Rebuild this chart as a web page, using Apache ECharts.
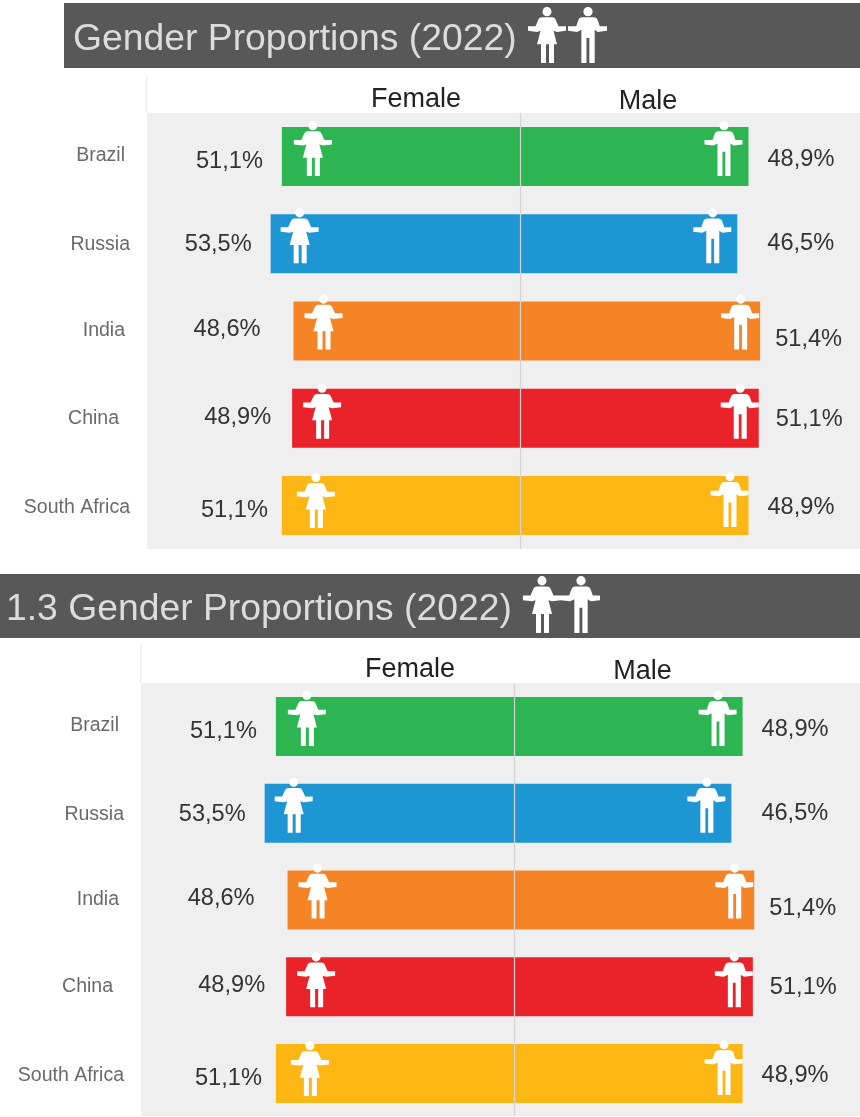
<!DOCTYPE html>
<html><head><meta charset="utf-8">
<style>html,body{margin:0;padding:0;background:#fff}#c{width:860px;height:1117px}</style>
<script src="https://cdn.jsdelivr.net/npm/echarts@6/dist/echarts.min.js"></script>
</head><body><div id="c"></div>
<script>
const categories = ['Brazil','Russia','India','China','South Africa'];
const femaleValues = [51.1,53.5,48.6,48.9,51.1];
const maleValues = [48.9,46.5,51.4,51.1,48.9];
const categoryColors = ['#2DB552','#1E96D4','#F58426','#EA2229','#FDB714'];
const titles = ['Gender Proportions (2022)','1.3 Gender Proportions (2022)'];
const sideNames = ['Female','Male'];

// hand placement of the annotations, relative to the end of each bar
const femaleLabelOffset = [[-19,5],[-19,1],[-33,-2],[-21,-1],[-14,5]];
const maleLabelOffset = [[19,3],[30,0],[15,8],[17,1],[19,2]];
const femaleIconOffset = [[31,-8],[29,-8],[30,-9],[30,-7],[34,-5]];
const maleIconOffset = [[-25,-8],[-25,-8],[-20,-9],[-19,-7],[-19,-6]];
const categoryLabelInset = [5,0,5,11,0];
const categoryLabelTop = [-11,-9,-10,-10,-8];

const FEMALE = 'M14.5 4.5a4.5 4.5 0 1 0 9 0a4.5 4.5 0 1 0 -9 0ZM14 10L24 10Q27 10 28 13L30.5 18.5L38 18.5L38 23L29 24L25.5 23L29 36L26 36L26 54L21 54L21 36L18 36L18 54L13 54L13 36L9 36L12.5 23L9 24L0 23L0 18.5L7.5 18.5L10 13Q11 10 14 10Z';
const MALE = 'M15 4.5a4.5 4.5 0 1 0 9 0a4.5 4.5 0 1 0 -9 0ZM14 10L25 10Q28 10 29 13L31 18.5L38 18.5L38 23L29 24L26 22L26 54L20.8 54L20.8 30L18 30L18 54L13 54L13 22L9 24L0 23L0 18.5L8 18.5L10 13Q11 10 14 10Z';
echarts.graphic.registerShape('femaleIcon', echarts.graphic.extendPath(FEMALE, {}));
echarts.graphic.registerShape('maleIcon', echarts.graphic.extendPath(MALE, {}));

const FONT = '"Liberation Sans", Arial, sans-serif';
const pct = v => Math.abs(v).toFixed(1).replace('.',',') + '%';

const panels = [
  {left:147, top:113, width:713, max:72.8},
  {left:141, top:683, width:719, max:74.06}
];

const grid = panels.map(p => ({left:p.left, top:p.top, width:p.width, height:436, show:true,
  backgroundColor:'#efefef', borderWidth:0, containLabel:false}));
const xAxis = panels.map((p,i) => ({gridIndex:i, type:'value', min:-80, max:p.max, show:false}));
const yAxis = panels.map((p,i) => ({gridIndex:i, type:'category', inverse:true,
  data: categories.map((c,k) => ({value:c, textStyle:{verticalAlign:'top', padding:[categoryLabelTop[k],categoryLabelInset[k],0,0]}})),
  axisLine:{show:false}, axisTick:{show:false},
  axisLabel:{margin:17, fontFamily:FONT, fontSize:19.5, color:'#6a6a6a'}}));

function barSeries(i, name, values, labelOffset, pos, stack){
  return {type:'bar', name, xAxisIndex:i, yAxisIndex:i, stack, barWidth:59, z:2, silent:true,
    data: values.map((v,k) => ({value:v, itemStyle:{color:categoryColors[k]},
      label:{show:true, position:pos, distance:0, offset:labelOffset[k], formatter:pct(v),
        fontFamily:FONT, fontSize:23.6, color:'#333'}})),
    markLine: name===sideNames[1] ? {silent:true, symbol:'none', animation:false, z:4, label:{show:false},
      lineStyle:{color:'#d2d2d2', width:1.2, type:'solid'}, data:[{xAxis:0}]} : undefined};
}
function iconSeries(i, values, path, offs){
  return {type:'scatter', xAxisIndex:i, yAxisIndex:i, z:5, silent:true, symbol:'path://'+path,
    symbolSize:[38,55], itemStyle:{color:'#fff', opacity:1},
    data: values.map((v,k) => ({value:[v,categories[k]], symbolOffset:offs[k]}))};
}
const series = [];
panels.forEach((p,i) => {
  const neg = femaleValues.map(v => -v);
  series.push(barSeries(i, sideNames[0], neg, femaleLabelOffset, 'left', 's'+i));
  series.push(barSeries(i, sideNames[1], maleValues, maleLabelOffset, 'right', 's'+i));
  series.push(iconSeries(i, neg, FEMALE, femaleIconOffset));
  series.push(iconSeries(i, maleValues, MALE, maleIconOffset));
});

const icon = (t,x,y,w,h) => ({type:t, z:10, x, y, scaleX:w/38, scaleY:h/54, style:{fill:'#fff'}});
const txt = (s,x,y,size,fill,align) => ({type:'text', z:10, x, y, style:{text:s, fontFamily:FONT, fontSize:size, fill, align:align||'left', verticalAlign:'middle'}});
const graphic = [
  {type:'rect', z:1, shape:{x:64,y:3,width:796,height:65}, style:{fill:'#585858'}},
  txt(titles[0],73,39.5,37.3,'#dcdcdc'),
  icon('femaleIcon',528,7,38,56), icon('maleIcon',568,7,39,56),
  {type:'rect', z:1, shape:{x:146,y:75,width:1.5,height:38}, style:{fill:'#efefef'}},
  txt(sideNames[0],416,100,27,'#222','center'), txt(sideNames[1],648,102,27,'#222','center'),

  {type:'rect', z:1, shape:{x:0,y:574,width:860,height:64}, style:{fill:'#585858'}},
  txt(titles[1],6,609.5,37.3,'#dcdcdc'),
  icon('femaleIcon',523,576,38,57), icon('maleIcon',561,576,39,57),
  {type:'rect', z:1, shape:{x:140,y:645,width:1.5,height:38}, style:{fill:'#efefef'}},
  txt(sideNames[0],410,670,27,'#222','center'), txt(sideNames[1],642.5,672,27,'#222','center'),
  {type:'rect', z:20, shape:{x:0,y:1116,width:860,height:1}, style:{fill:'#fff'}}
];

const chart = echarts.init(document.getElementById('c'), null, {renderer:'canvas', width:860, height:1117});
chart.setOption({animation:false, backgroundColor:'#fff', grid, xAxis, yAxis, series, graphic});
</script></body></html>
